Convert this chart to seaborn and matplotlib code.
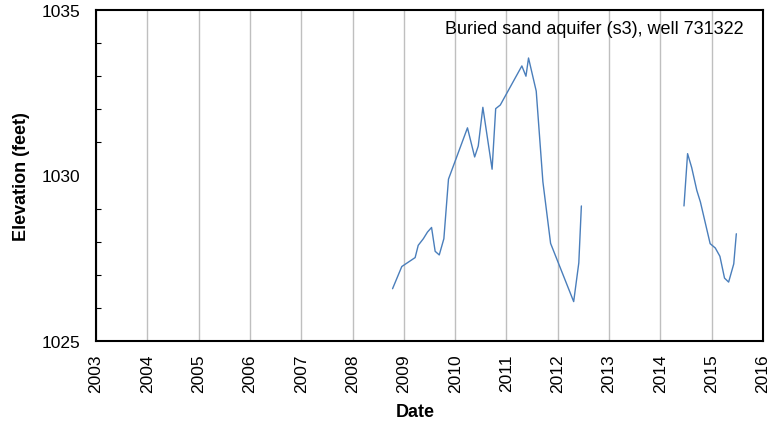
import numpy as np
import pandas as pd
import matplotlib
matplotlib.use("Agg")
import matplotlib.pyplot as plt
import seaborn as sns
from matplotlib.ticker import MultipleLocator

# Data (decimal year, elevation in feet)
seg1_dates = [2008.78, 2008.96, 2009.22, 2009.28, 2009.38, 2009.46, 2009.54, 2009.61,
              2009.69, 2009.78, 2009.87, 2010.24, 2010.38, 2010.45, 2010.54, 2010.72,
              2010.79, 2010.88, 2011.30, 2011.38, 2011.43, 2011.58, 2011.71, 2011.86,
              2012.31, 2012.41, 2012.46]
seg1_elev = [1026.58, 1027.25, 1027.52, 1027.89, 1028.09, 1028.29, 1028.43, 1027.71,
             1027.60, 1028.09, 1029.89, 1031.44, 1030.56, 1030.89, 1032.06, 1030.19,
             1032.02, 1032.13, 1033.31, 1033.00, 1033.55, 1032.55, 1029.81, 1027.95,
             1026.19, 1027.36, 1029.08]
seg2_dates = [2014.46, 2014.53, 2014.61, 2014.71, 2014.78, 2014.97, 2015.07, 2015.16,
              2015.25, 2015.33, 2015.43, 2015.48]
seg2_elev = [1029.08, 1030.66, 1030.24, 1029.55, 1029.20, 1027.94, 1027.81, 1027.56,
             1026.90, 1026.78, 1027.33, 1028.24]
year_ticks = list(range(2003, 2017))
elev_ticks = [1025, 1030, 1035]
label_text = "Buried sand aquifer (s3), well 731322"

df = pd.DataFrame({
    "date": seg1_dates + seg2_dates,
    "elev": seg1_elev + seg2_elev,
    "segment": [1] * len(seg1_dates) + [2] * len(seg2_dates),
})

sns.set_theme(style="white")
plt.rcParams["font.family"] = ["Liberation Sans", "DejaVu Sans"]
plt.rcParams["text.color"] = "black"
plt.rcParams["axes.labelcolor"] = "black"
plt.rcParams["xtick.color"] = "black"
plt.rcParams["ytick.color"] = "black"

fig = plt.figure(figsize=(7.7, 4.27), dpi=100)
ax = fig.add_axes([96 / 770, 1 - 342 / 427, (763 - 96) / 770, (342 - 11) / 427])

sns.lineplot(data=df, x="date", y="elev", units="segment", estimator=None,
             color="#4a7ebb", linewidth=1.0, ax=ax, legend=False)

ax.set_xlim(2003, 2016)
ax.set_ylim(1025, 1035)
ax.set_xticks(year_ticks)
ax.set_xticklabels([str(y) for y in year_ticks], rotation=90, fontsize=12.5)
ax.set_yticks(elev_ticks)
ax.set_yticklabels([str(v) for v in elev_ticks], fontsize=12.5)
ax.yaxis.set_minor_locator(MultipleLocator(1))
ax.tick_params(axis="y", which="major", length=0, pad=11)
ax.tick_params(axis="y", which="minor", direction="in", length=3.5, width=0.8, color="black", left=True)
ax.tick_params(axis="x", which="major", length=0, pad=9)

ax.grid(axis="x", color="#bfbfbf", linewidth=1.0)
ax.grid(axis="y", visible=False)
ax.set_axisbelow(True)
for s in ax.spines.values():
    s.set_color("black")
    s.set_linewidth(1.5)

ax.set_xlabel("Date", fontsize=13, fontweight="bold")
ax.xaxis.set_label_coords((396 - 96) / 667, (342 - 413) / 331)
ax.xaxis.label.set_horizontalalignment("left")
ax.xaxis.label.set_verticalalignment("center")
ax.set_ylabel("Elevation (feet)", fontsize=13, fontweight="bold")
ax.yaxis.set_label_coords((22 - 96) / 667, 0.5)
ax.yaxis.label.set_verticalalignment("center")

ax.text(0.9715, 0.945, label_text, transform=ax.transAxes, ha="right", va="center",
        fontsize=13, color="black")

fig.savefig("out.png", dpi=100)
